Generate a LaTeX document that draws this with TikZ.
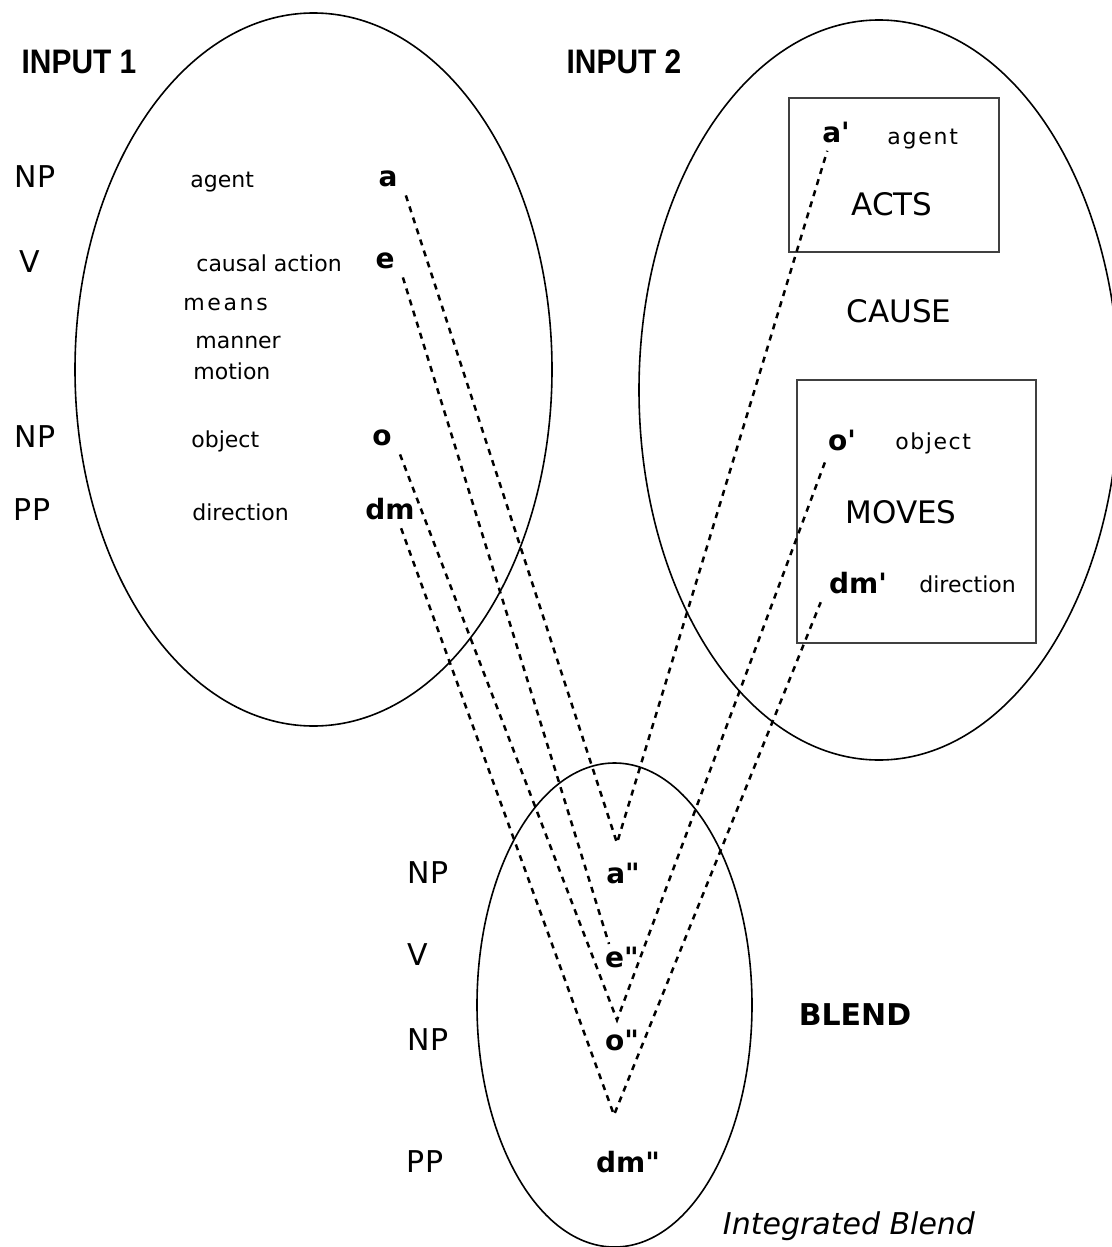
\documentclass[tikz,border=0pt]{standalone}
\usepackage{fontspec}
\setmainfont{DejaVu Sans}
\newfontfamily\headfont[FakeStretch=0.88]{Liberation Sans}

\tikzset{
    head/.style={font=\headfont\fontsize{17}{20}\selectfont\bfseries, inner sep=0pt},
    syn/.style={font=\fontsize{15}{18}\selectfont, inner sep=0pt},
    role/.style={font=\fontsize{11}{13}\selectfont, anchor=mid west, inner sep=0pt},
    elem/.style={font=\fontsize{14}{17}\selectfont\bfseries, inner sep=4pt},
    event/.style={font=\fontsize{15.5}{18}\selectfont, inner sep=0pt},
    link/.style={dash pattern=on 3pt off 2.8pt, line width=1.25pt},
    space/.style={line width=0.8pt},
    framebox/.style={line width=1pt, draw=black!75},
}

\begin{document}
\begin{tikzpicture}[x=0.5pt, y=-0.5pt]
    \useasboundingbox (0,0) rectangle (1112,1247);

    % the three spaces
    \draw[space] (313.5,369.5) ellipse [x radius=238.5, y radius=356.5];
    \draw[space] (879,390) ellipse [x radius=240, y radius=370];
    \draw[space] (614.5,1005) ellipse [x radius=137.5, y radius=242];

    \node[head] (in1) at (79,62) {INPUT 1};
    \node[head] (in2) at (624,62) {INPUT 2};

    % input 1
    \node[syn] (np1) at (35,177) {NP};
    \node[syn] (v1) at (30,262) {V};
    \node[syn] (np2) at (35,437) {NP};
    \node[syn] (pp1) at (32,510) {PP};

    \node[role] (agent1) at (190,182) {agent};
    \node[role] (causal) at (196,266) {causal action};
    \node[role] (means) at (183,305) {\addfontfeature{LetterSpace=12}means};
    \node[role] (manner) at (195,343) {manner};
    \node[role] (motion) at (193,374) {motion};
    \node[role] (object1) at (191,442) {object};
    \node[role] (direction1) at (192,515) {direction};

    \node[elem] (a) at (388,179) {a};
    \node[elem] (e) at (385,261) {e};
    \node[elem] (o) at (382,438) {o};
    \node[elem] (dm) at (390,509) {dm};

    % input 2
    \draw[framebox] (789,98) rectangle (999,252);
    \draw[framebox] (797,380) rectangle (1036,643);

    \node[elem] (a1) at (836,132) {a\textquotesingle};
    \node[role] (agent2) at (887,139) {\addfontfeature{LetterSpace=8}agent};
    \node[event] (acts) at (892,204) {ACTS};
    \node[event] (cause) at (899,311) {CAUSE};
    \node[elem] (o1) at (842,440) {o\textquotesingle};
    \node[role] (object2) at (895,444) {\addfontfeature{LetterSpace=7}object};
    \node[event] (moves) at (901,512) {MOVES};
    \node[elem] (dm1) at (858,583) {dm\textquotesingle};
    \node[role] (direction2) at (919,587) {direction};

    % blend
    \node[syn] (np3) at (428,873) {NP};
    \node[syn] (v2) at (418,955) {V};
    \node[syn] (np4) at (428,1040) {NP};
    \node[syn] (pp2) at (425,1162) {PP};

    \node[elem] (a2) at (623,873) {a\textquotedbl};
    \node[elem] (e2) at (622,957) {e\textquotedbl};
    \node[elem] (o2) at (622,1040) {o\textquotedbl};
    \node[elem] (dm2) at (628,1162) {dm\textquotedbl};

    \node[font=\fontsize{15}{18}\selectfont\bfseries, inner sep=0pt] (blend) at (855,1015) {BLEND};
    \node[font=\fontsize{15}{18}\selectfont\itshape, inner sep=0pt] (integrated) at (849,1226) {Integrated Blend};

    % projections into the blend
    \coordinate (va) at (617,843);
    \coordinate (ve) at (609,944);
    \coordinate (vo) at (617,1020);
    \coordinate (vdm) at (614,1115);

    \draw[link] (a.south east) -- (va) -- (a1.-115);
    \draw[link] (e.south east) -- (ve);
    \draw[link] (o.south east) -- (vo) -- (o1.-130);
    \draw[link] (dm.-60) -- (vdm) -- (dm1.south west);
\end{tikzpicture}
\end{document}
